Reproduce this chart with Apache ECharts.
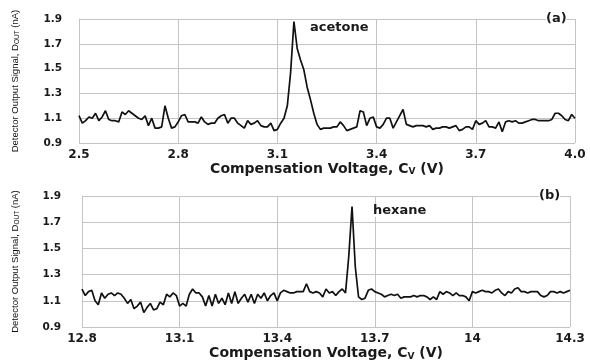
<!DOCTYPE html>
<html>
<head>
<meta charset="utf-8">
<title>Compensation voltage scans</title>
<script src="https://cdn.jsdelivr.net/npm/echarts@6/dist/echarts.min.js"></script>
<style>
  html, body { margin: 0; padding: 0; background: #fff; }
  #chart { width: 590px; height: 362px; }
</style>
</head>
<body>
<div id="chart"></div>
<script>
// (a) acetone scan, Cv from 2.50 to 4.00 V, one reading every 0.01 V
const acetoneStart = 2.5;
const acetoneStep = 0.01;
const acetoneSignal = [
  1.12, 1.06, 1.08, 1.11, 1.10, 1.14, 1.08, 1.11, 1.16, 1.09,
  1.08, 1.08, 1.07, 1.15, 1.13, 1.16, 1.14, 1.12, 1.10, 1.09,
  1.12, 1.04, 1.10, 1.02, 1.02, 1.03, 1.20, 1.10, 1.02, 1.03,
  1.07, 1.12, 1.13, 1.07, 1.07, 1.07, 1.06, 1.11, 1.07, 1.05,
  1.06, 1.06, 1.10, 1.12, 1.13, 1.06, 1.10, 1.10, 1.06, 1.04,
  1.02, 1.08, 1.05, 1.06, 1.08, 1.04, 1.03, 1.03, 1.06, 1.00,
  1.01, 1.06, 1.10, 1.20, 1.47, 1.88, 1.66, 1.57, 1.49, 1.35,
  1.25, 1.14, 1.05, 1.01, 1.02, 1.02, 1.02, 1.03, 1.03, 1.07,
  1.04, 1.00, 1.01, 1.02, 1.03, 1.16, 1.15, 1.04, 1.10, 1.11,
  1.03, 1.02, 1.05, 1.10, 1.10, 1.02, 1.07, 1.12, 1.17, 1.05,
  1.04, 1.03, 1.04, 1.04, 1.04, 1.03, 1.04, 1.01, 1.02, 1.02,
  1.03, 1.03, 1.02, 1.03, 1.04, 1.00, 1.01, 1.03, 1.03, 1.01,
  1.08, 1.05, 1.06, 1.08, 1.03, 1.03, 1.02, 1.07, 0.99, 1.07,
  1.08, 1.07, 1.08, 1.06, 1.06, 1.07, 1.08, 1.09, 1.09, 1.08,
  1.08, 1.08, 1.08, 1.09, 1.14, 1.14, 1.12, 1.09, 1.08, 1.13,
  1.10
];

// (b) hexane scan, Cv from 12.80 to 14.30 V
const hexaneStart = 12.8;
const hexaneStep = 0.01;
const hexaneSignal = [
  1.19, 1.14, 1.17, 1.18, 1.10, 1.07, 1.16, 1.12, 1.15, 1.16,
  1.14, 1.16, 1.15, 1.12, 1.08, 1.11, 1.04, 1.06, 1.09, 1.01,
  1.05, 1.08, 1.03, 1.04, 1.09, 1.07, 1.15, 1.13, 1.16, 1.14,
  1.06, 1.08, 1.06, 1.15, 1.19, 1.16, 1.16, 1.13, 1.06, 1.14,
  1.06, 1.15, 1.08, 1.12, 1.07, 1.16, 1.08, 1.17, 1.08, 1.12,
  1.15, 1.09, 1.15, 1.08, 1.15, 1.12, 1.16, 1.10, 1.14, 1.16,
  1.10, 1.16, 1.18, 1.17, 1.16, 1.16, 1.17, 1.17, 1.17, 1.23,
  1.17, 1.16, 1.17, 1.16, 1.13, 1.19, 1.16, 1.17, 1.14, 1.17,
  1.19, 1.16, 1.44, 1.82, 1.36, 1.13, 1.11, 1.12, 1.18, 1.19,
  1.17, 1.16, 1.15, 1.13, 1.14, 1.15, 1.14, 1.15, 1.12, 1.13,
  1.13, 1.13, 1.14, 1.13, 1.14, 1.14, 1.13, 1.11, 1.13, 1.11,
  1.17, 1.15, 1.17, 1.16, 1.14, 1.16, 1.14, 1.14, 1.13, 1.10,
  1.17, 1.16, 1.17, 1.18, 1.17, 1.17, 1.16, 1.18, 1.19, 1.16,
  1.14, 1.17, 1.16, 1.19, 1.20, 1.17, 1.17, 1.16, 1.17, 1.17,
  1.17, 1.14, 1.13, 1.14, 1.17, 1.17, 1.16, 1.17, 1.16, 1.17,
  1.18
];

// axis ranges / tick labels
const acetoneTicks = ["2.5", "2.8", "3.1", "3.4", "3.7", "4.0"];
const hexaneTicks = ["12.8", "13.1", "13.4", "13.7", "14", "14.3"];
const signalTicks = ["0.9", "1.1", "1.3", "1.5", "1.7", "1.9"];

const toPairs = (start, step, values) =>
  values.map((v, i) => [+(start + i * step).toFixed(2), v]);

const labelFont = "DejaVu Sans";
const gridColor = "#c4c4c4";

const yTitle = "Detector Output Signal, D{sub|OUT} (nA)";
const xTitle = "Compensation Voltage, C{sub|V} (V)";

const xAxisFor = (gridIndex, ticks, gap) => ({
  type: "value",
  gridIndex: gridIndex,
  min: +ticks[0],
  max: +ticks[ticks.length - 1],
  interval: 0.3,
  axisLine: { show: false },
  axisTick: { show: false },
  splitLine: { show: true, lineStyle: { color: gridColor, width: 1 } },
  axisLabel: {
    margin: 6,
    color: "#1a1a1a",
    fontFamily: labelFont,
    fontWeight: "bold",
    fontSize: 12,
    formatter: (v) => {
      // pick the label text that matches this tick
      const hit = ticks.find((t) => Math.abs(+t - v) < 1e-6);
      return hit || "";
    },
  },
  name: xTitle,
  nameLocation: "middle",
  nameGap: gap,
  nameTextStyle: {
    color: "#1a1a1a",
    fontFamily: labelFont,
    fontWeight: "bold",
    fontSize: 14,
    rich: {
      sub: {
        fontFamily: labelFont,
        fontWeight: "bold",
        fontSize: 9,
        verticalAlign: "bottom",
        padding: [6, 0, 0, 0],
      },
    },
  },
});

const yAxisFor = (gridIndex, margin, gap) => ({
  type: "value",
  gridIndex: gridIndex,
  min: 0.9,
  max: 1.9,
  interval: 0.2,
  axisLine: { show: true, lineStyle: { color: gridColor, width: 1 } },
  axisTick: { show: false },
  splitLine: { show: true, lineStyle: { color: gridColor, width: 1 } },
  axisLabel: {
    margin: margin,
    color: "#1a1a1a",
    fontFamily: labelFont,
    fontWeight: "bold",
    fontSize: 10.5,
    formatter: (v) => signalTicks.find((t) => Math.abs(+t - v) < 1e-6) || "",
  },
  name: yTitle,
  nameLocation: "middle",
  nameGap: gap,
  nameTextStyle: {
    color: "#111",
    fontFamily: "Liberation Sans",
    fontSize: 9.5,
    rich: {
      sub: {
        fontFamily: "Liberation Sans",
        fontSize: 6.5,
        padding: [5, 0, 0, 0],
      },
    },
  },
});

const tagStyle = (txt, left, top) => ({
  type: "text",
  left: left,
  top: top,
  style: {
    text: txt,
    fill: "#1a1a1a",
    font: "bold 13px 'DejaVu Sans'",
    backgroundColor: "#fff",
  },
  z: 10,
});

const chart = echarts.init(document.getElementById("chart"), null, {
  renderer: "canvas",
});

chart.setOption({
  animation: false,
  backgroundColor: "#fff",
  grid: [
    { left: 79, right: 15, top: 19, height: 124 },
    { left: 82, right: 20, top: 196, height: 139 },
  ],
  xAxis: [xAxisFor(0, acetoneTicks, 16), xAxisFor(1, hexaneTicks, 19)],
  yAxis: [yAxisFor(0, 17, 58), yAxisFor(1, 21, 61)],
  series: [
    {
      name: "acetone",
      type: "line",
      xAxisIndex: 0,
      yAxisIndex: 0,
      showSymbol: false,
      lineStyle: { color: "#111", width: 1.7 },
      data: toPairs(acetoneStart, acetoneStep, acetoneSignal),
    },
    {
      name: "hexane",
      type: "line",
      xAxisIndex: 1,
      yAxisIndex: 1,
      showSymbol: false,
      lineStyle: { color: "#111", width: 1.7 },
      data: toPairs(hexaneStart, hexaneStep, hexaneSignal),
    },
  ],
  graphic: [
    tagStyle("acetone", 310, 21),
    tagStyle("(a)", 546, 12),
    tagStyle("hexane", 373, 204),
    tagStyle("(b)", 539, 189),
  ],
});
</script>
</body>
</html>
